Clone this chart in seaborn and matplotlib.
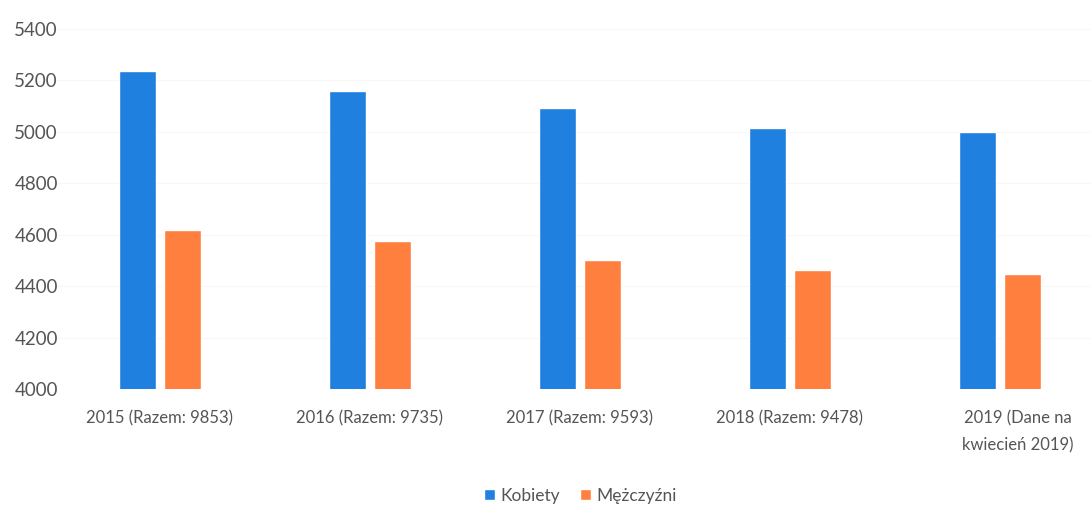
import matplotlib
matplotlib.use("Agg")
import matplotlib.pyplot as plt
import matplotlib.transforms as mtransforms
import seaborn as sns
import pandas as pd
from matplotlib.patches import Patch

categories = ["2015 (Razem: 9853)", "2016 (Razem: 9735)", "2017 (Razem: 9593)",
              "2018 (Razem: 9478)", "2019 (Dane na\nkwiecień 2019)"]
kobiety = [5236, 5159, 5093, 5015, 5000]
mezczyzni = [4617, 4576, 4500, 4463, 4449]
series_names = ["Kobiety", "Mężczyźni"]
yticks = [4000, 4200, 4400, 4600, 4800, 5000, 5200, 5400]

colors = ["#1F80E0", "#FF7F3F"]

df = pd.DataFrame({
    "kat": categories * 2,
    "wartosc": kobiety + mezczyzni,
    "seria": [series_names[0]] * 5 + [series_names[1]] * 5,
})

sns.set_theme(style="white")
plt.rcParams['font.family'] = ['Lato', 'DejaVu Sans']

fig = plt.figure(figsize=(10.91, 5.09), dpi=100)
fig.patch.set_facecolor("white")
ax = fig.add_axes([55 / 1091, 1 - 389 / 509, 1050 / 1091, 360 / 509])

sns.barplot(data=df, x="kat", y="wartosc", hue="seria", palette=colors,
            width=0.433, gap=0.19, ax=ax, legend=False, saturation=1)

ax.set_ylim(4000, 5400)
ax.set_yticks(yticks)
ax.set_yticklabels([str(v) for v in yticks])
ax.set_xlabel("")
ax.set_ylabel("")
for s in ax.spines.values():
    s.set_visible(False)
ax.yaxis.grid(True, color="#f7f7f7", linewidth=0.8)
ax.set_axisbelow(True)
ax.tick_params(axis="y", length=0, pad=-2, labelsize=13.5, labelcolor="#555555")
ax.tick_params(axis="x", length=0, pad=15, labelsize=12, labelcolor="#555555")
xl = ax.get_xticklabels()
for lbl in xl:
    lbl.set_linespacing(1.9)
xl[-1].set_transform(xl[-1].get_transform() +
                     mtransforms.ScaledTranslation(0.18, 0, fig.dpi_scale_trans))

handles = [Patch(facecolor=colors[0]), Patch(facecolor=colors[1])]
fig.legend(handles, series_names, loc="center", bbox_to_anchor=(0.532, 0.026),
           ncol=2, frameon=False, fontsize=12.5, handlelength=0.6, handleheight=0.6,
           handletextpad=0.3, columnspacing=1.2, labelcolor="#555555")

fig.savefig("out.png", dpi=100, facecolor="white")
